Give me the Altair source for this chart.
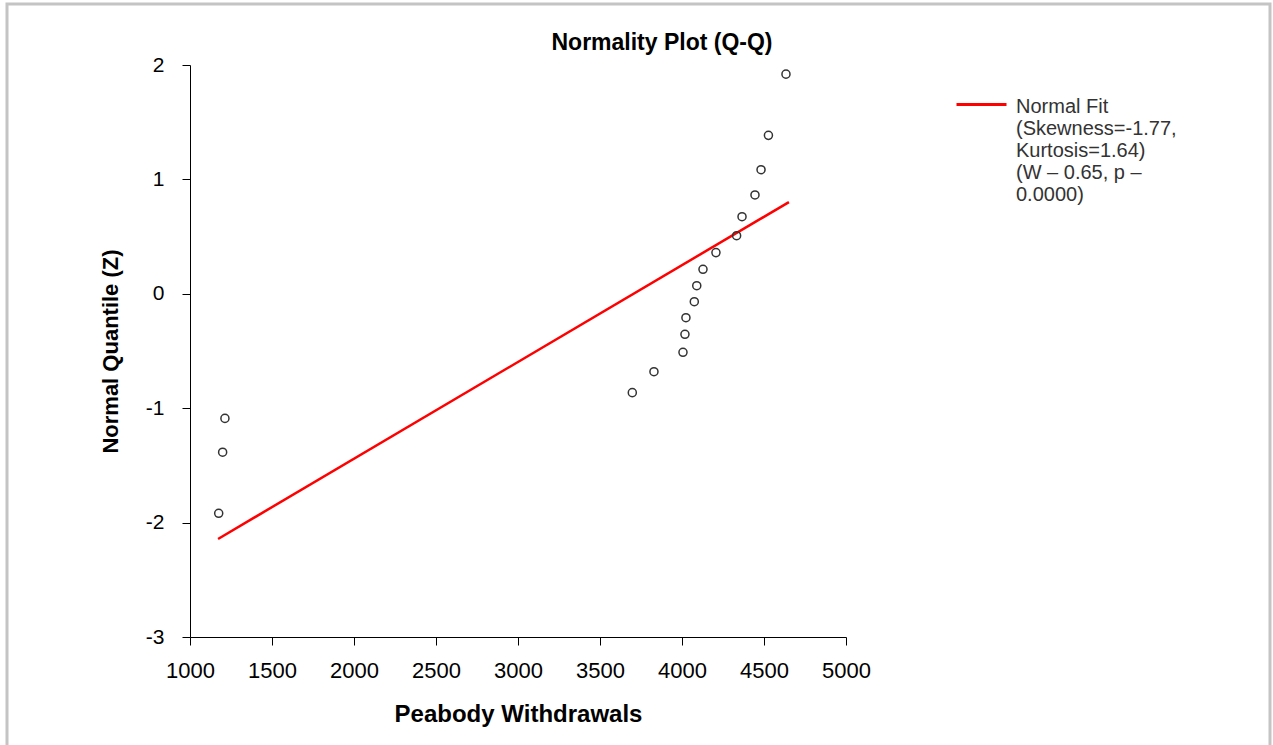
import altair as alt
import pandas as pd

# Observed data points (Peabody withdrawals vs normal quantile)
withdrawals = [1175, 1199, 1213, 3697, 3829, 4006, 4018, 4024, 4075,
               4090, 4128, 4207, 4333, 4366, 4445, 4482, 4527, 4634]
quantiles = [-1.919, -1.385, -1.089, -0.864, -0.681, -0.511, -0.354, -0.209, -0.069,
             0.071, 0.214, 0.36, 0.508, 0.674, 0.864, 1.085, 1.385, 1.92]

# Normal fit line endpoints
fit_x = [1171, 4652]
fit_z = [-2.143, 0.802]

chart_title = "Normality Plot (Q-Q)"
legend_lines = ["Normal Fit", "(Skewness=-1.77,", "Kurtosis=1.64)", "(W \u2013 0.65, p \u2013", "0.0000)"]

pts = pd.DataFrame({"x": withdrawals, "z": quantiles})
fit = pd.DataFrame({"x": fit_x, "z": fit_z, "series": ["Normal Fit"] * 2})
title_df = pd.DataFrame({"t": [chart_title]})

FONT = "Liberation Sans"

xscale = alt.Scale(domain=[1000, 5000], nice=False, zero=False)
yscale = alt.Scale(domain=[-3, 2], nice=False, zero=False)

xaxis = alt.Axis(title="Peabody Withdrawals", values=list(range(1000, 5001, 500)), format="d",
                 grid=False, tickSize=8, labelPadding=15, labelFontSize=22, labelColor="#000",
                 labelFlush=False, labelOverlap=False,
                 titleFontSize=24, titleFontWeight="bold", titlePadding=21, titleColor="#000",
                 domainColor="#000", tickColor="#000", labelFont=FONT, titleFont=FONT)
yaxis = alt.Axis(title="Normal Quantile (Z)", values=[-3, -2, -1, 0, 1, 2],
                 labelExpr="datum.value + ''", grid=False, tickSize=8, labelPadding=18,
                 labelFlush=False, labelOverlap=False,
                 labelFontSize=21, labelColor="#000", titleFontSize=22, titleFontWeight="bold",
                 titlePadding=23, titleColor="#000", domainColor="#000", tickColor="#000",
                 labelFont=FONT, titleFont=FONT)

line = alt.Chart(fit).mark_line(strokeWidth=2.5).encode(
    x=alt.X("x:Q", scale=xscale, axis=xaxis),
    y=alt.Y("z:Q", scale=yscale, axis=yaxis),
    color=alt.Color("series:N", scale=alt.Scale(domain=["Normal Fit"], range=["#ff0000"]),
                    legend=alt.Legend(title=None, orient="none", legendX=765, legendY=15,
                                      symbolType="M-1,-0.08L1,-0.08", symbolSize=2500,
                                      symbolStrokeWidth=3, labelBaseline="middle",
                                      labelFontSize=20, labelFont=FONT, labelColor="#333",
                                      labelLimit=400, labelOffset=8,
                                      labelExpr=str(legend_lines).replace('"', "'"))),
)

points = alt.Chart(pts).mark_point(shape="circle", filled=False, size=65, strokeWidth=1.5,
                                   color="#333", opacity=1).encode(
    x=alt.X("x:Q", scale=xscale),
    y=alt.Y("z:Q", scale=yscale),
)

title = alt.Chart(title_df).mark_text(font=FONT, fontSize=23, fontWeight="bold", color="#000",
                                      align="center", baseline="middle").encode(
    text="t:N", x=alt.value(472), y=alt.value(-22)
)

frame = alt.Chart(title_df).mark_rect(fill=None, stroke="#c4c4c4", strokeWidth=3).encode(
    x=alt.value(-183), x2=alt.value(1080), y=alt.value(-61), y2=alt.value(720)
)

chart = alt.layer(frame, title, line, points).properties(
    width=656, height=572,
    autosize=alt.AutoSizeParams(type="none"),
    padding={"left": 190, "top": 65, "right": 427, "bottom": 108},
).configure_view(stroke=None)

chart.save("out.html", embed_options={"renderer": "svg", "actions": False})
